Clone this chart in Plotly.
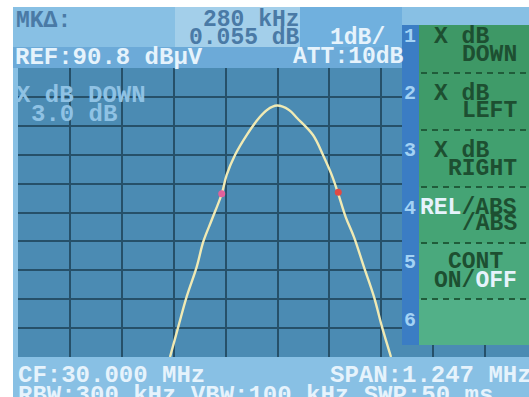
import plotly.graph_objects as go

# ---- trace data (frequency in MHz, level in dBuV) ----
freq_mhz = [29.7417, 29.7617, 29.7818, 29.8059, 29.8217, 29.8419, 29.8659, 29.8779,
            29.8979, 29.9260, 29.9555, 29.9748, 29.9988, 30.0276, 30.0469, 30.0853,
            30.1093, 30.1302, 30.1454, 30.1639, 30.1838, 30.2078, 30.2319, 30.2511,
            30.2727]
level_dbuv = [80.80, 81.85, 82.89, 83.92, 84.79, 85.54, 86.44, 87.10,
              87.79, 88.48, 89.07, 89.35, 89.50, 89.35, 89.07, 88.48,
              87.79, 87.10, 86.47, 85.64, 84.95, 83.91, 82.88, 81.84,
              80.80]

# ---- instrument settings ----
center_mhz = 30.000
span_mhz = 1.247
ref_level = 90.8
db_per_div = 1
att_db = 10
rbw_khz, vbw_khz, sweep_ms = 300, 100, 50
xdb_down = 3.0

# ---- markers (marker 1 and delta marker) ----
mk1_freq = 29.866
mk1_level = 86.450
mk_delta_khz = 280
mk_delta_db = 0.055
mk2_freq = mk1_freq + mk_delta_khz / 1000
mk2_level = mk1_level + mk_delta_db

# ---- softkey menu ----
softkey_numbers = ["1", "2", "3", "4", "5", "6"]

# ---- screen geometry (pixels) ----
FIG_W, FIG_H = 529, 397
PL, PR, PT, PB = 18, 529, 68, 357
DIV_PX = 51.9

def xp(px):
    return (px - PL) / (PR - PL)

def yp(py):
    return (PB - py) / (PB - PT)

f_start = center_mhz - span_mhz / 2
div_mhz = span_mhz / 10
f_end = f_start + (PR - PL) / DIV_PX * div_mhz

FONT = "Liberation Mono"
WHITE = "#e6f3fc"
HDR_BLUE = "#4a7aa6"
KEY_TXT = "#1d4f31"
GRID_BG = "#4b8bb3"

fig = go.Figure()

fig.add_trace(go.Scatter(
    x=freq_mhz, y=level_dbuv, mode="lines",
    line=dict(color="#f0eab4", width=2.4, shape="spline", smoothing=1.0),
    hoverinfo="skip", showlegend=False))

fig.add_trace(go.Scatter(
    x=[mk1_freq], y=[mk1_level], mode="markers",
    marker=dict(color="#e0619c", size=7), showlegend=False))
fig.add_trace(go.Scatter(
    x=[mk2_freq], y=[mk2_level], mode="markers",
    marker=dict(color="#e04a45", size=7), showlegend=False))

shapes = []

def rect(x0, y0, x1, y1, color, layer="below"):
    shapes.append(dict(type="rect", xref="paper", yref="paper",
                       x0=xp(x0), x1=xp(x1), y0=yp(y1), y1=yp(y0),
                       fillcolor=color, line=dict(width=0), layer=layer))

# screen frame, header bands and graticule background
rect(13, 7, 529, 397, "#88c0e4")
rect(175, 7, 300, 47, "#a3cfea")
rect(300, 7, 402, 47, "#70b0de")
rect(13, 47, 402, 68, "#6caad8")
rect(PL, PT, PR, PB, GRID_BG)

# softkey number strip and key panel (over the graticule)
rect(402, 25, 419, 345, "#3b7dc4", layer="above")
key_bands = [(25, 73, "#3e9866"), (73, 130, "#3f9b69"), (130, 187, "#41a06f"),
             (187, 243, "#45a475"), (243, 299, "#4aa97d"), (299, 345, "#52b088")]
for y0, y1, c in key_bands:
    rect(419, y0, 529, y1, c, layer="above")
for ysep in [73, 130, 187, 243, 299]:
    shapes.append(dict(type="line", xref="paper", yref="paper",
                       x0=xp(421), x1=xp(529), y0=yp(ysep), y1=yp(ysep),
                       line=dict(color="#205c3a", width=2, dash="6px,5px"),
                       layer="above"))

annotations = []

def txt(s, x, y, color, size=24, anchor="left"):
    annotations.append(dict(text=s, x=xp(x), y=yp(y), xref="paper", yref="paper",
                            xanchor=anchor, yanchor="middle", showarrow=False,
                            borderpad=0, borderwidth=0,
                            font=dict(family=FONT, size=size, color=color,
                                      weight="bold")))

txt("MKΔ:", 16, 21, HDR_BLUE, size=23)
txt(f"{mk_delta_khz} kHz", 300, 20, HDR_BLUE, size=23, anchor="right")
txt(f"{mk_delta_db:.3f} dB", 300, 38, HDR_BLUE, size=23, anchor="right")
txt(f"{db_per_div}dB/", 330, 38, WHITE, size=23)
txt(f"ATT:{att_db}dB", 404, 57, WHITE, size=23, anchor="right")
txt(f"REF:{ref_level:.1f} dBμV", 15, 57, WHITE)

txt("X dB DOWN", 16, 95, "#8fc2e4")
txt(f"{xdb_down:.1f} dB", 31, 114, "#8fc2e4")

txt(f"CF:{center_mhz:.3f} MHz", 18, 376, WHITE)
txt(f"SPAN:{span_mhz:.3f} MHz", 330, 376, WHITE)
txt(f"RBW:{rbw_khz} kHz VBW:{vbw_khz} kHz SWP:{sweep_ms} ms", 18, 395, WHITE)

for n, yc in zip(softkey_numbers, [36, 93, 150, 208, 262, 320]):
    txt(n, 410, yc, "#a3d2f4", size=20, anchor="center")

KS = 23
txt("X dB", 434, 37, KEY_TXT, size=KS)
txt("DOWN", 462, 55, KEY_TXT, size=KS)
txt("X dB", 434, 94, KEY_TXT, size=KS)
txt("LEFT", 462, 111, KEY_TXT, size=KS)
txt("X dB", 434, 151, KEY_TXT, size=KS)
txt("RIGHT", 448, 169, KEY_TXT, size=KS)
txt(f"<span style='color:{WHITE}'>REL</span>/ABS", 420, 208, KEY_TXT, size=KS)
txt("/ABS", 462, 224, KEY_TXT, size=KS)
txt("CONT", 448, 262, KEY_TXT, size=KS)
txt(f"ON/<span style='color:{WHITE}'>OFF</span>", 434, 281, KEY_TXT, size=KS)

fig.update_layout(
    width=FIG_W, height=FIG_H,
    margin=dict(l=PL, r=FIG_W - PR, t=PT, b=FIG_H - PB, pad=0),
    paper_bgcolor="white", plot_bgcolor=GRID_BG,
    shapes=shapes, annotations=annotations,
    showlegend=False,
    xaxis=dict(range=[f_start, f_end], tick0=f_start, dtick=div_mhz,
               showgrid=True, gridcolor="#265069", gridwidth=2,
               showticklabels=False, ticks="", zeroline=False, showline=False),
    yaxis=dict(range=[ref_level - 10 * db_per_div, ref_level], dtick=db_per_div,
               tick0=ref_level, showgrid=True, gridcolor="#265069", gridwidth=2,
               showticklabels=False, ticks="", zeroline=False, showline=False),
)

fig.write_html("out.html")
